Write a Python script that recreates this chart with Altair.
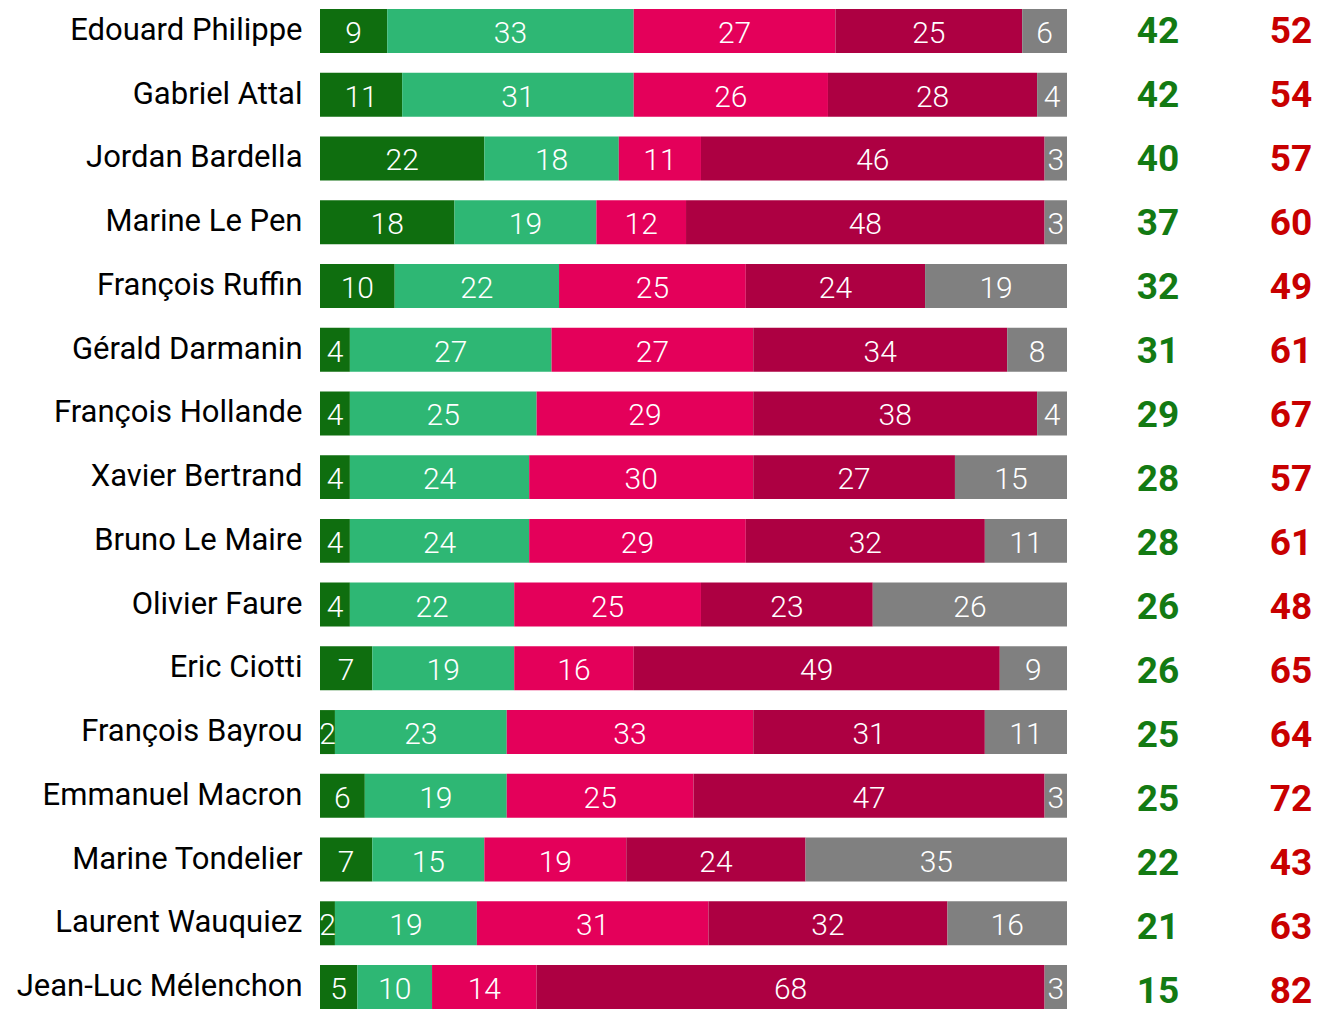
import altair as alt
import pandas as pd

names = ["Edouard Philippe", "Gabriel Attal", "Jordan Bardella", "Marine Le Pen",
         "François Ruffin", "Gérald Darmanin", "François Hollande", "Xavier Bertrand",
         "Bruno Le Maire", "Olivier Faure", "Eric Ciotti", "François Bayrou",
         "Emmanuel Macron", "Marine Tondelier", "Laurent Wauquiez", "Jean-Luc Mélenchon"]
tres_fav = [9, 11, 22, 18, 10, 4, 4, 4, 4, 4, 7, 2, 6, 7, 2, 5]
plutot_fav = [33, 31, 18, 19, 22, 27, 25, 24, 24, 22, 19, 23, 19, 15, 19, 10]
plutot_defav = [27, 26, 11, 12, 25, 27, 29, 30, 29, 25, 16, 33, 25, 19, 31, 14]
tres_defav = [25, 28, 46, 48, 24, 34, 38, 27, 32, 23, 49, 31, 47, 24, 32, 68]
nsp = [6, 4, 3, 3, 19, 8, 4, 15, 11, 26, 9, 11, 3, 35, 16, 3]
total_fav = [42, 42, 40, 37, 32, 31, 29, 28, 28, 26, 26, 25, 25, 22, 21, 15]
total_defav = [52, 54, 57, 60, 49, 61, 67, 57, 61, 48, 65, 64, 72, 43, 63, 82]

cats = ["Très favorable", "Plutôt favorable", "Plutôt défavorable", "Très défavorable", "Ne se prononce pas"]
cat_colors = ["#0F6E0F", "#2EB774", "#E4005A", "#AD0042", "#808080"]
series = [tres_fav, plutot_fav, plutot_defav, tres_defav, nsp]

rows = []
for i, n in enumerate(names):
    for k, (c, vals) in enumerate(zip(cats, series)):
        rows.append({"name": n, "cat": c, "order": k, "value": vals[i]})
df = pd.DataFrame(rows)

trows = []
for i, n in enumerate(names):
    trows.append({"idx": i, "type": "fav", "total": total_fav[i], "col": "#137A13"})
    trows.append({"idx": i, "type": "defav", "total": total_defav[i], "col": "#C80000"})
tdf = pd.DataFrame(trows)

H = 1000

base = alt.Chart(df).transform_window(
    cum="sum(value)", groupby=["name"], sort=[alt.SortField("order")], frame=[None, 0]
).transform_calculate(
    start="datum.cum - datum.value", mid="datum.cum - datum.value / 2"
)

yenc = alt.Y("name:N", sort=names,
             scale=alt.Scale(paddingInner=0.31, paddingOuter=0),
             axis=alt.Axis(title=None, domain=False, ticks=False, labelFontSize=31,
                           labelFont="Roboto", labelColor="#000000", labelPadding=18,
                           minExtent=307, maxExtent=307, labelLimit=0, labelAlign="right"))

bars = base.mark_bar().encode(
    y=yenc,
    x=alt.X("start:Q", scale=alt.Scale(domain=[0, 100], nice=False), axis=None),
    x2="cum:Q",
    color=alt.Color("cat:N", sort=cats, scale=alt.Scale(domain=cats, range=cat_colors), legend=None),
)
labels = base.mark_text(color="white", fontSize=30, font="Roboto", fontWeight=300,
                        baseline="middle", dy=3).encode(
    y=alt.Y("name:N", sort=names),
    x=alt.X("mid:Q"),
    text=alt.Text("value:Q"),
)
left = alt.layer(bars, labels).properties(width=747, height=H)

right = alt.Chart(tdf).mark_text(fontSize=37, fontWeight="bold", font="Roboto",
                                 baseline="middle", dy=2).encode(
    x=alt.X("type:N", sort=["fav", "defav"], scale=alt.Scale(type="point", padding=0), axis=None),
    y=alt.Y("idx:Q", scale=alt.Scale(domain=[-0.33, 15.29], reverse=True, nice=False, zero=False), axis=None),
    color=alt.Color("col:N", scale=None),
    text=alt.Text("total:Q"),
).properties(width=133, height=H)

chart = alt.hconcat(left, right, spacing=91, bounds="flush").properties(
    padding={"left": 5, "top": 1, "right": -1, "bottom": 0}
).configure_view(stroke=None)

chart.save("out.html", embed_options={"renderer": "svg", "actions": False})
